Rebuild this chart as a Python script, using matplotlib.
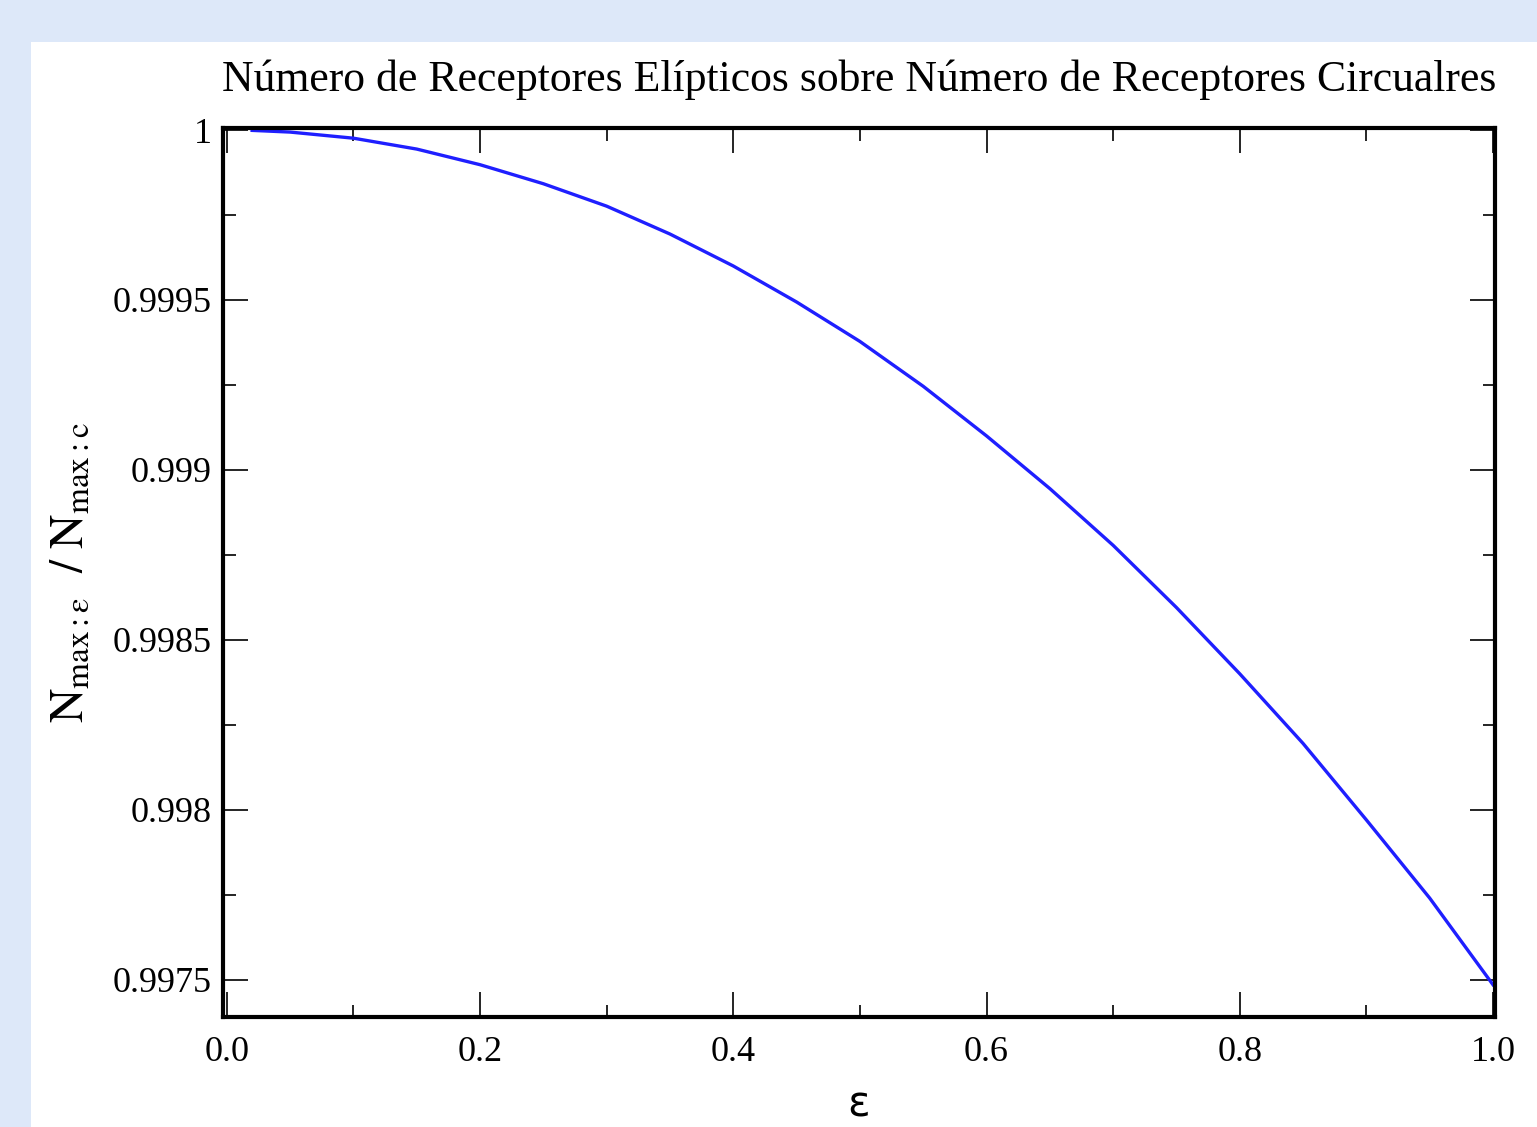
import matplotlib
matplotlib.use("Agg")
import matplotlib.pyplot as plt
from matplotlib.patches import Rectangle
from matplotlib.ticker import MultipleLocator

# valores (excentricidad vs cociente N_max)
eps = [0.02, 0.05, 0.10, 0.15, 0.20, 0.25, 0.30, 0.35, 0.40, 0.45, 0.50,
       0.55, 0.60, 0.65, 0.70, 0.75, 0.80, 0.85, 0.90, 0.95, 1.00]
cociente = [0.999999, 0.999994, 0.999976, 0.999944, 0.999898, 0.999842,
            0.999776, 0.999694, 0.999600, 0.999494, 0.999378, 0.999246,
            0.999100, 0.998945, 0.998778, 0.998595, 0.998400, 0.998195,
            0.997970, 0.997740, 0.997485]

xticks = [0.0, 0.2, 0.4, 0.6, 0.8, 1.0]
xtick_labels = ["0.0", "0.2", "0.4", "0.6", "0.8", "1.0"]
yticks = [0.9975, 0.998, 0.9985, 0.999, 0.9995, 1.0]
ytick_labels = ["0.9975", "0.998", "0.9985", "0.999", "0.9995", "1"]

titulo = "Número de Receptores Elípticos sobre Número de Receptores Circualres"

plt.rcParams['font.family'] = ['Liberation Serif', 'DejaVu Serif']
plt.rcParams['mathtext.fontset'] = 'stix'

fig = plt.figure(figsize=(15.37, 11.27), dpi=100)
fig.patch.set_facecolor('#dde8f9')
fondo = Rectangle((31/1537, 0), 1, 1 - 42/1127, transform=fig.transFigure,
                  facecolor='white', edgecolor='none', zorder=-10)
fig.add_artist(fondo)

ax = fig.add_axes([223/1537, 110/1127, 1272/1537, 889/1127])
ax.set_facecolor('white')
ax.plot(eps, cociente, color='#1f1fff', linewidth=2.4)

ax.set_xlim(-0.003, 1.0016)
ax.set_ylim(0.99739, 1.000006)
ax.set_xticks(xticks)
ax.set_xticklabels(xtick_labels)
ax.set_yticks(yticks)
ax.set_yticklabels(ytick_labels)
ax.xaxis.set_minor_locator(MultipleLocator(0.1))
ax.yaxis.set_minor_locator(MultipleLocator(0.00025))

ax.tick_params(which='both', direction='in', top=True, right=True, width=1.2, color='black')
ax.tick_params(which='major', length=18, labelsize=26)
ax.tick_params(which='minor', length=9)
ax.tick_params(axis='x', which='major', pad=14)
ax.tick_params(axis='y', which='major', pad=8)

for s in ax.spines.values():
    s.set_linewidth(3)

ax.set_title(titulo, fontsize=31.5, pad=27, x=0.5)
ax.set_ylabel(r'$\mathrm{N_{max{:}\varepsilon}\ \ /\ N_{max{:}c}}$', fontsize=34, labelpad=14)

fig.text(859/1537, 0.001, 'ε', fontsize=30, family=['DejaVu Sans'], ha='center', va='bottom')

fig.savefig('out.png', dpi=100, facecolor=fig.get_facecolor())
